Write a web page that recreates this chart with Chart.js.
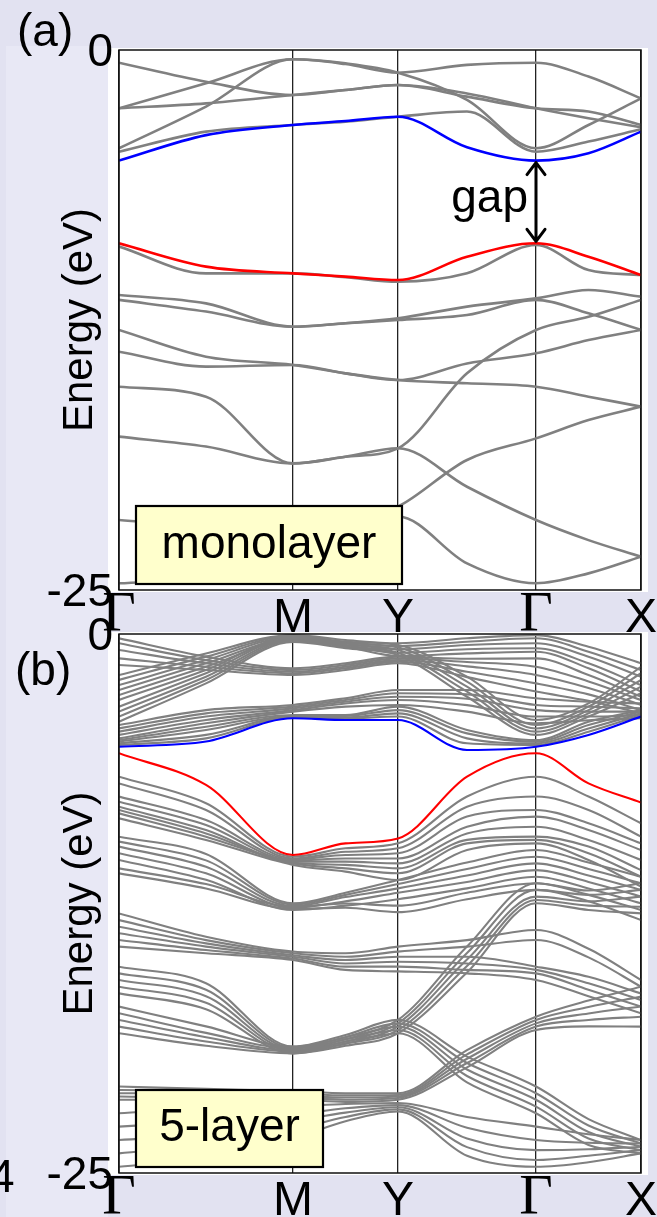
<!DOCTYPE html>
<html><head><meta charset="utf-8">
<script src="https://cdn.jsdelivr.net/npm/chart.js@4.4.1/dist/chart.umd.min.js"></script>
<style>
html,body{margin:0;padding:0;}
body{width:657px;height:1217px;background:#e2e2f1;position:relative;overflow:hidden;font-family:'Liberation Sans',Arial,sans-serif;}
.strip{position:absolute;left:6px;top:46px;width:102px;height:1171px;background:#e8e8f5;}
.sheet{position:absolute;left:108px;width:540px;background:#fff;}
canvas{position:absolute;left:0;}
</style></head><body>
<div class="strip"></div>
<div class="sheet" style="top:48px;height:544px"></div>
<div class="sheet" style="top:632px;height:543px"></div>
<canvas id="pa" style="top:0;width:657px;height:640px"></canvas>
<canvas id="pb" style="top:584px;width:657px;height:633px"></canvas>
<script>
// k-path sampling: Γ, ½ΓM, M, ½MY, Y, ½YΓ, Γ, ½ΓX, X
const kPath = [0, 0.87, 1.74, 2.265, 2.79, 3.48, 4.17, 4.695, 5.22];
const kTicks = [0, 1.74, 2.79, 4.17, 5.22];
const kLabels = ['Γ', 'M', 'Y', 'Γ', 'X'];
const energyTicks = [-25, 0];

// ---- monolayer ----
const monoCBM = [-5.12, -3.94, -3.47, -3.29, -3.09, -4.50, -5.12, -4.78, -3.78];
const monoVBM = [-8.95, -10.03, -10.34, -10.49, -10.65, -9.57, -8.95, -9.57, -10.42];
const monoConduction = [
  [-0.59, -1.47, -2.08, -1.85, -1.62, -2.01, -2.70, -3.16, -3.58],
  [-2.70, -1.54, -0.43, -0.65, -1.05, -0.69, -0.59, -1.23, -2.24],
  [-2.70, -2.47, -2.08, -1.85, -1.62, -2.16, -2.70, -2.85, -3.47],
  [-4.55, -2.62, -0.43, -0.62, -1.05, -2.31, -4.55, -3.47, -2.24],
  [-4.71, -3.78, -3.47, -3.32, -3.09, -2.85, -4.71, -4.24, -3.67]
];
const monoValence = [
  [-9.10, -10.34, -10.34, -10.52, -10.73, -10.34, -9.03, -10.19, -10.42],
  [-11.34, -11.73, -12.81, -12.65, -12.42, -11.88, -11.50, -11.11, -11.42],
  [-11.57, -12.11, -12.81, -12.65, -12.50, -12.27, -11.57, -12.19, -12.96],
  [-12.96, -14.20, -14.58, -14.97, -15.28, -15.43, -15.59, -16.05, -16.51],
  [-13.97, -14.66, -14.58, -14.97, -15.28, -14.51, -14.04, -13.43, -12.96],
  [-15.59, -16.05, -19.14, -18.83, -18.44, -14.97, -12.96, -12.35, -11.57],
  [-17.90, -18.36, -19.14, -18.83, -18.44, -20.22, -21.76, -22.69, -23.46],
  [-21.76, -22.07, -22.20, -21.90, -21.14, -18.98, -17.98, -17.13, -16.51],
  [-24.69, -24.50, -24.00, -22.80, -21.60, -23.77, -24.69, -24.23, -23.46]
];

// ---- 5-layer ----
const fiveCBM = [-5.23, -4.99, -3.91, -3.99, -3.99, -5.38, -5.23, -4.68, -3.83];
const fiveVBM = [-5.53, -7.00, -10.25, -9.71, -9.48, -6.62, -5.53, -6.93, -7.82];
const fiveConduction = [
  [-1.90, -0.90, -0.05, -0.28, -0.43, -0.20, -0.05, -0.59, -1.36],
  [-2.13, -1.05, -0.09, -0.36, -0.56, -0.36, -0.20, -0.82, -1.67],
  [-2.37, -1.21, -0.15, -0.43, -0.71, -0.51, -0.43, -1.05, -1.98],
  [-2.60, -1.36, -0.22, -0.51, -0.87, -0.71, -0.66, -1.36, -2.37],
  [-2.83, -1.52, -0.28, -0.59, -1.02, -0.90, -0.82, -1.59, -2.67],
  [-0.20, -1.05, -1.59, -1.36, -1.05, -1.15, -1.13, -1.90, -2.91],
  [-0.43, -1.21, -1.67, -1.44, -1.13, -1.30, -1.52, -2.20, -3.06],
  [-0.74, -1.36, -1.75, -1.52, -1.21, -1.50, -1.90, -2.50, -3.29],
  [-1.13, -1.52, -1.82, -1.59, -1.28, -1.75, -2.29, -2.80, -3.53],
  [-1.44, -1.67, -1.90, -1.67, -1.36, -2.00, -2.67, -3.10, -3.68],
  [-3.06, -1.67, -0.12, -0.36, -0.51, -1.98, -3.99, -3.22, -1.52],
  [-3.37, -1.82, -0.19, -0.43, -0.62, -2.21, -4.22, -3.37, -1.82],
  [-3.60, -1.98, -0.25, -0.51, -0.74, -2.44, -4.38, -3.53, -2.13],
  [-3.83, -2.13, -0.31, -0.59, -0.87, -2.67, -4.53, -3.68, -2.44],
  [-4.07, -2.29, -0.37, -0.66, -0.97, -2.91, -4.68, -3.83, -2.75],
  [-4.22, -3.53, -3.29, -2.98, -2.60, -2.60, -2.98, -3.14, -3.22],
  [-4.38, -3.68, -3.37, -3.06, -2.75, -2.80, -3.29, -3.37, -3.45],
  [-4.53, -3.83, -3.45, -3.14, -2.91, -3.00, -3.53, -3.60, -3.60],
  [-4.68, -3.99, -3.53, -3.22, -3.06, -3.30, -3.83, -3.83, -3.76],
  [-4.84, -4.14, -3.60, -3.37, -3.29, -3.60, -4.14, -4.00, -3.91],
  [-5.15, -4.84, -3.87, -3.91, -3.83, -5.07, -5.15, -4.53, -3.76],
  [-5.07, -4.68, -3.83, -3.87, -3.68, -4.84, -5.07, -4.38, -3.68],
  [-4.99, -4.45, -3.80, -3.80, -3.53, -4.61, -4.99, -4.22, -3.60],
  [-4.92, -4.30, -3.76, -3.76, -3.37, -4.45, -4.92, -4.07, -3.53]
];
const fiveValence = [
  [-6.62, -7.85, -10.33, -9.94, -9.71, -7.54, -6.62, -7.54, -8.78],
  [-6.93, -8.16, -10.41, -10.10, -9.94, -8.01, -7.54, -8.16, -9.40],
  [-7.54, -8.63, -10.45, -10.25, -10.17, -8.47, -8.16, -8.78, -9.71],
  [-7.78, -8.86, -10.51, -10.41, -10.41, -8.94, -8.47, -9.09, -10.02],
  [-8.01, -9.09, -10.56, -10.56, -10.64, -9.25, -8.94, -9.55, -10.48],
  [-8.16, -9.25, -10.60, -10.71, -10.87, -9.55, -9.40, -9.86, -10.95],
  [-8.32, -9.40, -10.64, -10.87, -11.10, -9.71, -9.55, -10.17, -11.26],
  [-8.55, -9.55, -10.71, -11.02, -11.41, -10.02, -9.71, -10.48, -11.72],
  [-9.40, -10.20, -12.49, -12.00, -11.41, -10.60, -10.02, -10.60, -11.26],
  [-9.63, -10.50, -12.55, -12.10, -11.60, -10.90, -10.33, -10.90, -11.56],
  [-9.86, -10.80, -12.62, -12.20, -11.80, -11.20, -10.64, -11.20, -11.87],
  [-10.17, -11.10, -12.70, -12.40, -12.00, -11.50, -10.95, -11.50, -12.18],
  [-10.48, -11.40, -12.80, -12.60, -12.30, -11.80, -11.26, -11.80, -12.49],
  [-10.87, -11.60, -12.65, -12.50, -12.60, -12.00, -11.56, -12.10, -12.80],
  [-11.10, -11.80, -12.75, -12.70, -12.90, -12.30, -11.87, -12.40, -13.27],
  [-12.96, -14.04, -14.73, -14.81, -14.50, -14.20, -13.73, -14.60, -16.05],
  [-13.27, -14.20, -14.81, -14.97, -14.73, -14.50, -14.19, -15.00, -16.36],
  [-13.58, -14.35, -14.90, -15.12, -14.97, -14.97, -15.43, -15.90, -16.67],
  [-13.88, -14.50, -14.97, -15.28, -15.20, -15.28, -15.58, -16.20, -16.98],
  [-14.19, -14.66, -15.05, -15.43, -15.43, -15.58, -15.74, -16.50, -17.28],
  [-14.50, -14.81, -15.12, -15.58, -15.65, -15.74, -16.05, -16.80, -17.59],
  [-15.43, -16.20, -19.14, -18.70, -17.90, -14.50, -11.56, -11.90, -11.56],
  [-15.74, -16.50, -19.22, -18.80, -18.06, -14.80, -11.87, -12.10, -11.87],
  [-16.05, -16.80, -19.30, -18.90, -18.21, -15.10, -12.18, -12.40, -12.18],
  [-16.36, -17.10, -19.37, -19.00, -18.37, -15.40, -12.34, -12.60, -12.65],
  [-16.67, -17.40, -19.45, -19.10, -18.52, -15.70, -12.49, -12.80, -12.96],
  [-17.28, -18.20, -19.14, -18.60, -17.90, -19.60, -20.99, -22.50, -23.47],
  [-17.59, -18.50, -19.22, -18.70, -18.06, -19.90, -21.30, -22.80, -23.63],
  [-17.90, -18.70, -19.30, -18.80, -18.21, -20.20, -21.60, -23.10, -23.78],
  [-18.21, -18.90, -19.37, -18.90, -18.37, -20.50, -21.92, -23.40, -23.94],
  [-18.52, -19.10, -19.45, -19.00, -18.52, -20.80, -22.23, -23.70, -24.09],
  [-20.99, -21.10, -21.20, -21.30, -21.30, -19.30, -17.75, -17.00, -16.36],
  [-21.15, -21.20, -21.30, -21.40, -21.38, -19.50, -17.90, -17.30, -16.82],
  [-21.30, -21.30, -21.40, -21.50, -21.45, -19.70, -18.06, -17.60, -17.28],
  [-21.45, -21.50, -21.50, -21.60, -21.52, -19.90, -18.21, -17.90, -17.75],
  [-21.60, -21.60, -21.60, -21.70, -21.60, -20.10, -18.37, -18.20, -18.21],
  [-22.23, -22.00, -21.90, -21.80, -21.75, -22.40, -22.85, -23.20, -23.47],
  [-22.85, -22.60, -22.30, -22.00, -21.85, -22.90, -23.47, -23.60, -23.63],
  [-23.47, -23.20, -22.60, -22.20, -21.95, -23.40, -23.94, -23.90, -23.78],
  [-24.09, -23.70, -23.00, -22.40, -22.05, -23.80, -24.40, -24.20, -23.94],
  [-24.71, -24.30, -23.40, -22.60, -22.15, -24.20, -24.71, -24.50, -24.09]
];

const GREY = '#808080', BLUE = '#0000ff', RED = '#ff0000';
const SANS = "'Liberation Sans', Arial, sans-serif";
const SERIF = "'Liberation Serif', 'Times New Roman', serif";

function band(values, color, width) {
  return {
    data: kPath.map((k, i) => ({ x: k, y: values[i] })),
    borderColor: color, borderWidth: width, pointRadius: 0,
    cubicInterpolationMode: 'monotone', fill: false
  };
}

// frame, high-symmetry labels and panel notes
const panelDecor = {
  id: 'panelDecor',
  afterDatasetsDraw(chart, args, opts) {
    const { ctx, chartArea: a, scales: { x, y } } = chart;
    ctx.save();
    ctx.strokeStyle = '#111';
    ctx.lineWidth = 1.5;
    ctx.strokeRect(a.left, a.top, a.right - a.left, a.bottom - a.top);

    ctx.fillStyle = '#000';
    ctx.textAlign = 'center';
    ctx.textBaseline = 'alphabetic';
    kTicks.forEach((k, i) => {
      const gamma = kLabels[i] === 'Γ';
      ctx.font = gamma ? '58px ' + SERIF : '48px ' + SANS;
      ctx.fillText(kLabels[i], x.getPixelForValue(k), a.bottom + (gamma ? 41 : 42));
    });

    // panel tag
    ctx.textAlign = 'left';
    ctx.font = '46px ' + SANS;
    ctx.fillText(opts.tag, opts.tagX, opts.tagY);

    // name box
    const b = opts.box;
    ctx.fillStyle = '#ffffcc';
    ctx.fillRect(b.x, b.y, b.w, b.h);
    ctx.lineWidth = 2.2;
    ctx.strokeStyle = '#000';
    ctx.strokeRect(b.x, b.y, b.w, b.h);
    ctx.fillStyle = '#000';
    ctx.textAlign = 'center';
    ctx.font = '46px ' + SANS;
    ctx.fillText(b.text, b.x + b.w / 2, b.y + b.h - 26);

    if (opts.gap) {
      const gx = x.getPixelForValue(kTicks[3]);
      const y1 = y.getPixelForValue(monoCBM[6]);
      const y2 = y.getPixelForValue(monoVBM[6]);
      ctx.lineWidth = 3;
      ctx.lineCap = 'round';
      ctx.lineJoin = 'round';
      ctx.beginPath();
      ctx.moveTo(gx, y1 + 2); ctx.lineTo(gx, y2 - 2);
      ctx.moveTo(gx - 9, y1 + 14); ctx.lineTo(gx, y1 + 2); ctx.lineTo(gx + 9, y1 + 14);
      ctx.moveTo(gx - 9, y2 - 14); ctx.lineTo(gx, y2 - 2); ctx.lineTo(gx + 9, y2 - 14);
      ctx.stroke();
      ctx.textAlign = 'right';
      ctx.font = '46px ' + SANS;
      ctx.fillText('gap', gx - 8, (y1 + y2) / 2 + 10);
    }
    if (opts.extra) {
      ctx.textAlign = 'left';
      ctx.font = '46px ' + SANS;
      ctx.fillText(opts.extra.text, opts.extra.x, opts.extra.y);
    }
    ctx.restore();
  }
};

function makePanel(id, cbm, vbm, cond, val, width, axisH, decor) {
  const datasets = [band(cbm, BLUE, width), band(vbm, RED, width)]
    .concat(cond.map(v => band(v, GREY, width)))
    .concat(val.map(v => band(v, GREY, width)));
  const el = document.getElementById(id);
  el.width = 657; el.height = parseInt(el.style.height);
  return new Chart(el, {
    type: 'line',
    data: { datasets },
    plugins: [panelDecor],
    options: {
      responsive: false, animation: false, events: [],
      layout: { padding: { top: 50, right: 16, left: 0, bottom: 0 } },
      plugins: { legend: { display: false }, tooltip: { enabled: false }, panelDecor: decor },
      scales: {
        x: {
          type: 'linear', min: 0, max: kTicks[kTicks.length - 1],
          afterBuildTicks: s => { s.ticks = kTicks.map(v => ({ value: v })); },
          afterFit: s => { s.height = axisH; },
          grid: { color: '#222', lineWidth: 1.3, drawTicks: false },
          border: { display: false },
          ticks: { display: false }
        },
        y: {
          min: -25, max: 0,
          afterBuildTicks: s => { s.ticks = energyTicks.map(v => ({ value: v })); },
          afterFit: s => { s.width = 119; },
          grid: { display: false, drawTicks: false },
          border: { display: false },
          ticks: { color: '#000', padding: 6, labelOffset: 3, font: { family: SANS, size: 46 }, callback: v => String(v) },
          title: { display: true, text: 'Energy (eV)', color: '#000', font: { family: SANS, size: 42 }, padding: { top: 55 } }
        }
      }
    }
  });
}

makePanel('pa', monoCBM, monoVBM, monoConduction, monoValence, 2.6, 50, {
  tag: '(a)', tagX: 17, tagY: 46,
  box: { x: 136, y: 506, w: 266, h: 78, text: 'monolayer' },
  gap: true
});
makePanel('pb', fiveCBM, fiveVBM, fiveConduction, fiveValence, 2.1, 44, {
  tag: '(b)', tagX: 15, tagY: 101,
  box: { x: 136, y: 506, w: 187, h: 77, text: '5-layer' },
  gap: false,
  extra: { text: '4', x: -11, y: 608 }
});
</script>
</body></html>
